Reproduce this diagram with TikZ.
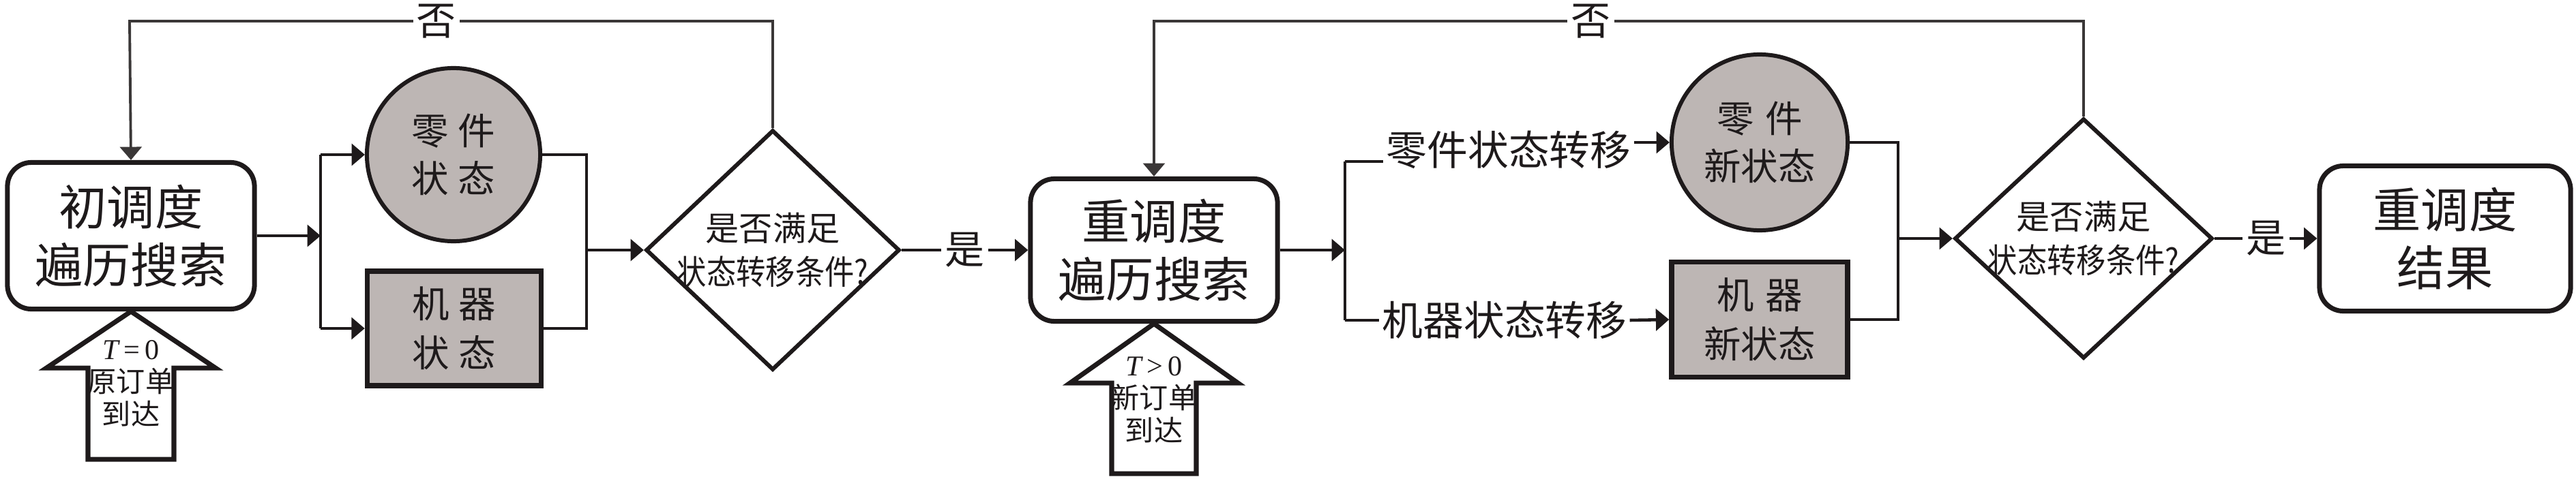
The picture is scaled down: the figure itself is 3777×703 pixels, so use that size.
\documentclass[tikz,border=0pt]{standalone}
\usepackage{fontspec}
\usepackage{graphicx}
\setmainfont{Liberation Serif}
\newfontfamily\cjk{Noto Sans CJK SC}
\usetikzlibrary{shapes.geometric,arrows.meta,calc}
\definecolor{stfill}{RGB}{189,182,180}
\definecolor{ink}{RGB}{30,26,27}
\definecolor{loopc}{RGB}{58,55,55}
\begin{document}
\begin{tikzpicture}[x=0.01cm,y=-0.01cm,
  conn/.style={line width=1.3pt,draw=ink},
  arr/.style={conn,-{Triangle[length=5.5pt,width=9pt]}},
  looparr/.style={line width=1.1pt,draw=loopc,-{Triangle[length=5.5pt,width=9pt]}},
  procbox/.style={draw=ink,line width=2pt,rounded corners=0.35cm,align=center,
    font=\cjk\fontsize{20}{24.2}\selectfont,inner sep=0pt,text=ink},
  statecirc/.style={circle,draw=ink,line width=1.7pt,fill=stfill,inner sep=0pt,
    align=center,font=\cjk\fontsize{15.5}{20}\selectfont,text=ink},
  staterect/.style={rectangle,draw=ink,line width=2.1pt,fill=stfill,inner sep=0pt,
    align=center,font=\cjk\fontsize{15.5}{20.5}\selectfont,text=ink},
  decision/.style={diamond,draw=ink,line width=1.7pt,inner sep=0pt},
  dtext/.style={align=center,font=\cjk\fontsize{14}{18.2}\selectfont,text=ink,inner sep=0pt},
  lbl/.style={font=\cjk\fontsize{16.5}{18}\selectfont,inner sep=1.5pt,fill=white,text=ink},
  edgetext/.style={font=\cjk\fontsize{17}{19}\selectfont,inner sep=1pt,text=ink},
  blockarr/.style={draw=ink,line width=2pt,fill=white,line join=miter},
  atext/.style={align=center,font=\fontsize{12}{13.7}\selectfont,inner sep=0pt,text=ink}
]
\useasboundingbox (0,0) rectangle (3777,703);

% ---------- left part ----------
\node[procbox,minimum width=3.62cm,minimum height=2.15cm] (box1) at (192,346) {初调度\\遍历搜索};
\draw[blockarr] (box1.south) -- ++(124,83) -- ++(-61,0) -- ++(0,134) -- ++(-126,0)
  -- ++(0,-134) -- ++(-61,0) -- cycle;
\node[atext] (a1t) at ($(box1.south)+(0,106)$) {{\itshape T}\,=\,0\\{\cjk 原订单}\\{\cjk 到达}};

\node[statecirc,minimum size=2.54cm] (ell1) at (665,227) {零\hspace{0.25em}件\\状\hspace{0.25em}态};
\node[staterect,minimum width=2.55cm,minimum height=1.68cm] (rect1) at (666,482) {机\hspace{0.25em}器\\状\hspace{0.25em}态};
\node[decision,minimum width=3.72cm,minimum height=3.52cm,
  label={[dtext]center:是否满足\\\scalebox{0.88}[1]{状态转移条件?}}] (dia1) at (1133,367) {};

\coordinate (j1) at (470,346);
\draw[arr] (box1.east) -- (j1);
\draw[conn] (j1 |- ell1.west) -- (j1 |- rect1.west);
\draw[arr] (j1 |- ell1.west) -- (ell1.west);
\draw[arr] (j1 |- rect1.west) -- (rect1.west);
\coordinate (m1) at (860,367);
\draw[conn] (ell1.east) -- (ell1.east -| m1) -- (rect1.east -| m1) -- (rect1.east);
\draw[arr] (m1) -- (dia1.west);
\coordinate (t1a) at (1133,31);
\coordinate (t1b) at (190,31);
\draw[looparr] (dia1.north) -- (t1a) -- node[lbl,pos=0.523] (no1) {否} (t1b) -- (box1.north);

% ---------- middle part ----------
\node[procbox,minimum width=3.62cm,minimum height=2.09cm] (box2) at (1692,367) {重调度\\遍历搜索};
\draw[arr] (dia1.east) -- node[lbl] (yes1) {是} (box2.west);
\draw[blockarr] (box2.south) -- ++(123,87) -- ++(-61,0) -- ++(0,133) -- ++(-124,0)
  -- ++(0,-133) -- ++(-61,0) -- cycle;
\node[atext] (a2t) at ($(box2.south)+(0,112)$) {{\itshape T}\,>\,0\\{\cjk 新订单}\\{\cjk 到达}};

\node[statecirc,minimum size=2.58cm] (ell2) at (2580,209) {零\hspace{0.3em}件\\新状态};
\node[staterect,minimum width=2.58cm,minimum height=1.69cm] (rect2) at (2580,469) {机\hspace{0.3em}器\\新状态};
\node[edgetext] (lab1) at (2212,220) {零件状态转移};
\node[edgetext] (lab2) at (2206,470) {机器状态转移};

\coordinate (j2) at (1972,367);
\coordinate (j2t) at (1972,237);
\coordinate (j2b) at (1972,470);
\draw[arr] (box2.east) -- (j2);
\draw[conn] (j2t) -- (j2b);
\draw[conn] (j2t) -- (j2t -| lab1.west);
\draw[arr] (lab1.east |- ell2.west) -- (ell2.west);
\draw[conn] (j2b) -- (lab2.west);
\draw[arr] (lab2.east) -- (rect2.west);

\node[decision,minimum width=3.78cm,minimum height=3.52cm,
  label={[dtext]center:是否满足\\\scalebox{0.88}[1]{状态转移条件?}}] (dia2) at (3055,350) {};
\coordinate (m2) at (2783,350);
\draw[conn] (ell2.east) -- (ell2.east -| m2) -- (rect2.east -| m2) -- (rect2.east);
\draw[arr] (m2) -- (dia2.west);
\coordinate (t2a) at (3055,31);
\coordinate (t2b) at (1692,31);
\draw[looparr] (dia2.north) -- (t2a) -- node[lbl,pos=0.53] (no2) {否} (t2b) -- (box2.north);

% ---------- right part ----------
\node[procbox,minimum width=3.68cm,minimum height=2.13cm] (box3) at (3585,350) {重调度\\结果};
\draw[arr] (dia2.east) -- node[lbl] (yes2) {是} (box3.west);
\end{tikzpicture}
\end{document}
